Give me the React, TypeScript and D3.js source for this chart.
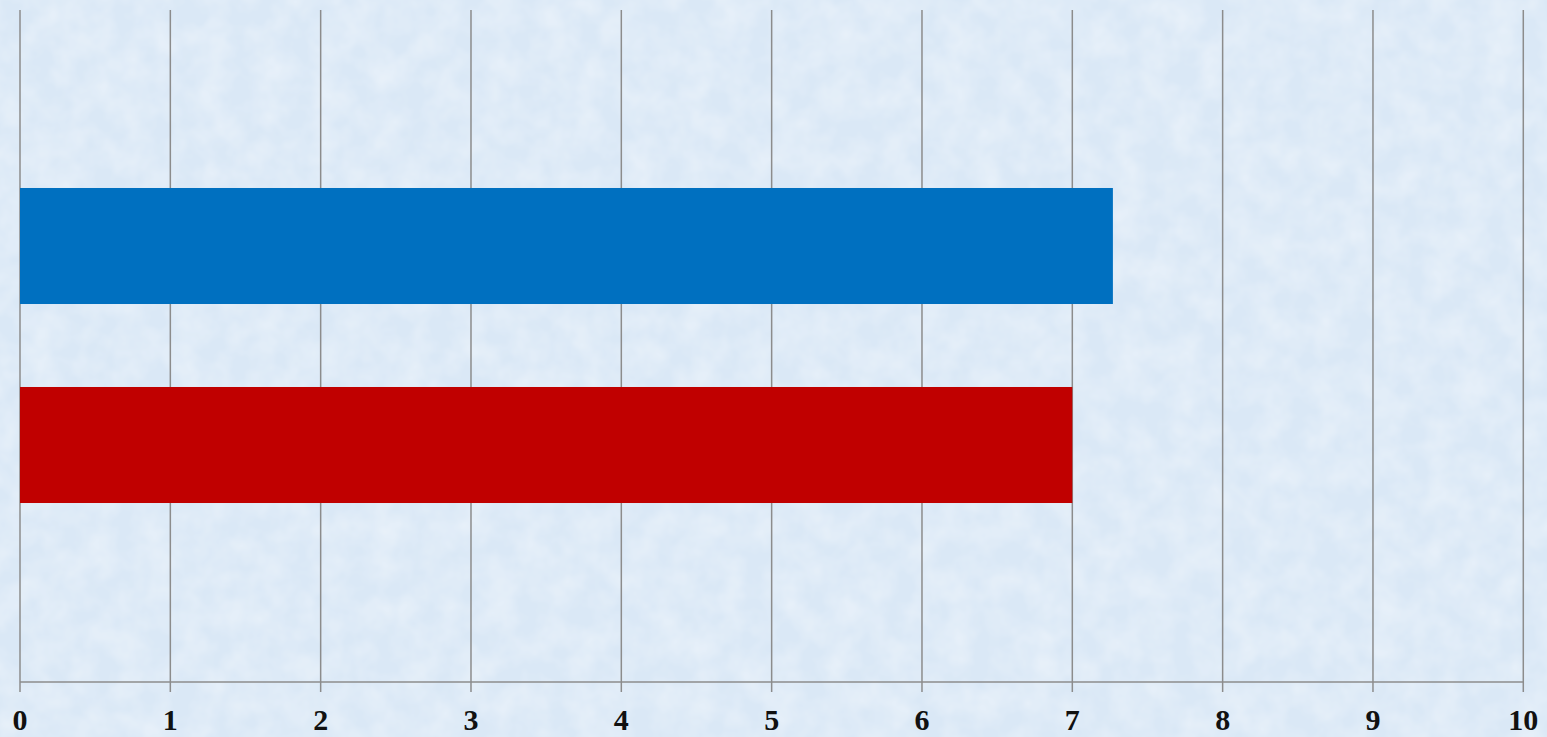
import React from "react";
import * as d3 from "d3";

const categories = ["Series A", "Series B"];
const values = [7.27, 7.0];
const barColors = ["#0070C0", "#C00000"];
const xTicks = [0, 1, 2, 3, 4, 5, 6, 7, 8, 9, 10];

const W = 1547;
const H = 737;

export default function App() {
  const x = d3.scaleLinear().domain([0, 10]).range([20, 1523.3]);
  const y = d3
    .scaleBand<string>()
    .domain(categories)
    .range([146.5, 544.5])
    .paddingInner(0.417)
    .paddingOuter(0.2085);
  const plotTop = 10;
  const axisY = 682;

  return (
    <svg
      width={W}
      height={H}
      style={{ position: "fixed", left: 0, top: 0, display: "block" }}
    >
      <defs>
        <filter id="tex" x="0" y="0" width="100%" height="100%">
          <feTurbulence type="fractalNoise" baseFrequency="0.035" numOctaves="3" seed="4" />
          <feColorMatrix
            type="matrix"
            values="0 0 0 0 1  0 0 0 0 1  0 0 0 0 1  0 0 0 0.6 -0.18"
          />
        </filter>
      </defs>
      <rect x={0} y={0} width={W} height={H} fill="#dae8f6" />
      <rect x={0} y={0} width={W} height={H} filter="url(#tex)" />
      {xTicks.map((t) => (
        <g key={t}>
          <line
            x1={x(t)}
            x2={x(t)}
            y1={plotTop}
            y2={axisY + 10}
            stroke="#8c8c8c"
            strokeWidth={1.5}
          />
          <text
            x={x(t)}
            y={730}
            textAnchor="middle"
            fontFamily="'Liberation Serif', 'Times New Roman', serif"
            fontWeight="bold"
            fontSize={30}
            fill="#111"
          >
            {t}
          </text>
        </g>
      ))}
      <line x1={x(0)} x2={x(10)} y1={axisY} y2={axisY} stroke="#8c8c8c" strokeWidth={1.5} />
      {categories.map((c, i) => (
        <rect
          key={c}
          x={x(0)}
          y={y(c)}
          width={x(values[i]) - x(0)}
          height={y.bandwidth()}
          fill={barColors[i]}
        />
      ))}
    </svg>
  );
}
